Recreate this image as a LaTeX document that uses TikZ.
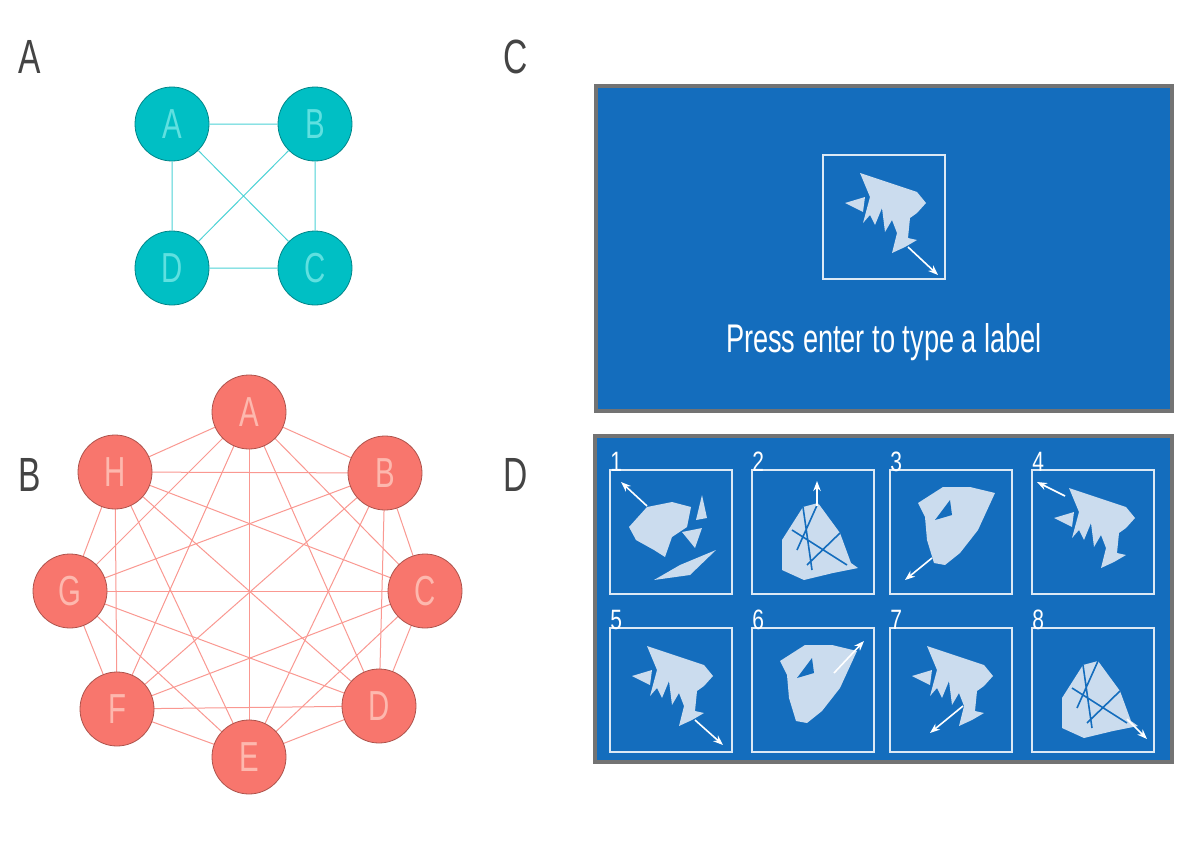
\documentclass[tikz,border=0pt]{standalone}
\usepackage{fontspec}
\setmainfont{Liberation Sans}
\usetikzlibrary{arrows.meta}
\definecolor{teal}{HTML}{00BFC4}
\definecolor{tealtxt}{HTML}{5FE0E0}
\definecolor{salmon}{HTML}{F8766D}
\definecolor{salmontxt}{HTML}{FDB8AE}
\definecolor{panelblue}{HTML}{146DBD}
\definecolor{shapefill}{HTML}{CBDCEE}
\definecolor{panlab}{HTML}{444444}
\tikzset{
 tnode/.style={circle,draw=teal!70!black,line width=0.4pt,fill=teal,minimum size=37pt,inner sep=0pt,text=tealtxt,font=\fontsize{21}{21}\selectfont},
 snode/.style={circle,draw=salmon!70!black,line width=0.4pt,fill=salmon,minimum size=37pt,inner sep=0pt,text=salmontxt,font=\fontsize{21}{21}\selectfont},
 tedge/.style={draw=teal!70,line width=0.5pt},
 sedge/.style={draw=salmon!75,line width=0.5pt},
 panlabel/.style={text=panlab,font=\fontsize{24}{24}\selectfont,xscale=0.7},
 panel/.style={fill=panelblue,draw=black!55,line width=2pt},
 thumb/.style={draw=white!85!panelblue,line width=0.7pt},
 num/.style={text=white,font=\fontsize{14}{14}\selectfont,xscale=0.75,anchor=south west,inner sep=0pt},
 shp/.style={fill=shapefill,draw=none},
 marr/.style={draw=white,line width=0.8pt,{Stealth[length=5pt]}-{Stealth[length=5pt]}},
 sarr/.style={draw=white,line width=0.8pt,-{Stealth[length=5pt]}},
}
\newcommand\fishshape{%
 \fill[shp] (37,18)--(94,37)--(103,48)--(94,58)--(87,63)--(85,83)--(94,85)--(82,92)--(69,98)--(74,78)--(69,65)--(62,77)--(59,53)--(52,70)--(47,60)--(40,68)--(47,42)--cycle;
 \fill[shp] (22,48)--(42,42)--(40,57)--cycle;}
\newcommand\clustershape{%
 \fill[shp] (30,70)--(51,37)--(66,33)--(88,63)--(99,93)--(106,98)--(81,103)--(52,110)--(30,100)--cycle;
 \draw[panelblue,line width=0.8pt] (51,37)--(60,100) (66,33)--(45,80) (88,63)--(55,95) (40,60)--(95,95);}
\newcommand\cupshape{%
 \fill[shp] (28,33)--(53,17)--(80,17)--(105,23)--(88,60)--(70,83)--(55,95)--(44,93)--(37,70)--(35,47)--cycle;
 \fill[panelblue] (45,50)--(60,30)--(62,45)--cycle;}
\begin{document}
\begin{tikzpicture}[x=0.5pt,y=-0.5pt]
\useasboundingbox (0,0) rectangle (1200,846);
\fill[white] (0,0) rectangle (1200,846);
% panel labels
\node[panlabel] (la) at (30,57) {A};
\node[panlabel] (lb) at (30,475) {B};
\node[panlabel] (lc) at (516,57) {C};
\node[panlabel] (ld) at (516,475) {D};
% panel A
\node[tnode] (a) at (172,124) {\scalebox{0.7}[1]{A}};
\node[tnode] (b) at (315,124) {\scalebox{0.7}[1]{B}};
\node[tnode] (d) at (172,268) {\scalebox{0.7}[1]{D}};
\node[tnode] (c) at (315,268) {\scalebox{0.7}[1]{C}};
\begin{scope}[on background layer/.style={}]
\end{scope}
% panel B nodes
\foreach \n/\x/\y in {A/249/412,B/385/473,C/425/591,D/379/706,E/249/757,F/117/709,G/70/591,H/115/472}
  \coordinate (p\n) at (\x,\y);
\foreach \u/\v in {A/B,A/C,A/D,A/E,A/F,A/G,A/H,B/C,B/D,B/E,B/F,B/G,B/H,C/D,C/E,C/F,C/G,C/H,D/E,D/F,D/G,D/H,E/F,E/G,E/H,F/G,F/H,G/H}
  \draw[sedge] (p\u) -- (p\v);
\draw[tedge] (a)--(b) (b)--(c) (c)--(d) (d)--(a) (a)--(c) (b)--(d);
\foreach \n in {A,B,C,D,E,F,G,H}
  \node[snode] (s\n) at (p\n) {\scalebox{0.7}[1]{\n}};
% panel C
\draw[panel] (596,86) rectangle (1172,411);
\draw[thumb] (823,155) rectangle (945,279);
\begin{scope}[shift={(823,155)}]
 \fishshape
 \coordinate (c1) at (85,92); \coordinate (c2) at (115,120);
 \draw[sarr] (c1)--(c2);
\end{scope}
\node[text=white,font=\fontsize{20}{20}\selectfont,xscale=0.68] (press) at (884,342) {Press enter to type a label};
% panel D
\draw[panel] (595,436) rectangle (1172,762);
\foreach \i/\x/\y in {1/610/470,2/752/470,3/890/470,4/1032/470,5/610/628,6/752/628,7/890/628,8/1032/628}{
  \draw[thumb] (\x,\y) rectangle ++(122,124);
  \node[num] (n\i) at (\x,\y+2) {\i};
}
\begin{scope}[shift={(610,470)}]
 \fill[shp] (19,57)--(37,37)--(62,32)--(81,37)--(77,57)--(62,67)--(55,87)--(44,80)--(26,70)--cycle;
 \fill[shp] (44,110)--(70,95)--(106,80)--(80,105)--cycle;
 \fill[shp] (92,25)--(86,50)--(97,48)--cycle;
 \fill[shp] (72,62)--(92,58)--(85,78)--cycle;
 \coordinate (d1a) at (37,36); \coordinate (d1b) at (11,12);
 \draw[sarr] (d1a)--(d1b);
\end{scope}
\begin{scope}[shift={(752,470)}]
 \clustershape
 \coordinate (d2a) at (65,36); \coordinate (d2b) at (65,11);
 \draw[sarr] (d2a)--(d2b);
\end{scope}
\begin{scope}[shift={(890,470)}]
 \cupshape
 \coordinate (d3a) at (42,88); \coordinate (d3b) at (15,110);
 \draw[sarr] (d3a)--(d3b);
\end{scope}
\begin{scope}[shift={(1032,470)}]
 \fishshape
 \coordinate (d4a) at (33,26); \coordinate (d4b) at (5,12);
 \draw[sarr] (d4a)--(d4b);
\end{scope}
\begin{scope}[shift={(610,628)}]
 \fishshape
 \coordinate (d5a) at (85,92); \coordinate (d5b) at (113,117);
 \draw[sarr] (d5a)--(d5b);
\end{scope}
\begin{scope}[shift={(752,628)}]
 \cupshape
 \coordinate (d6a) at (82,45); \coordinate (d6b) at (112,13);
 \draw[sarr] (d6a)--(d6b);
\end{scope}
\begin{scope}[shift={(890,628)}]
 \fishshape
 \coordinate (d7a) at (73,78); \coordinate (d7b) at (40,105);
 \draw[sarr] (d7a)--(d7b);
\end{scope}
\begin{scope}[shift={(1032,628)}]
 \clustershape
 \coordinate (d8a) at (95,91); \coordinate (d8b) at (115,111);
 \draw[sarr] (d8a)--(d8b);
\end{scope}
\end{tikzpicture}
\end{document}
